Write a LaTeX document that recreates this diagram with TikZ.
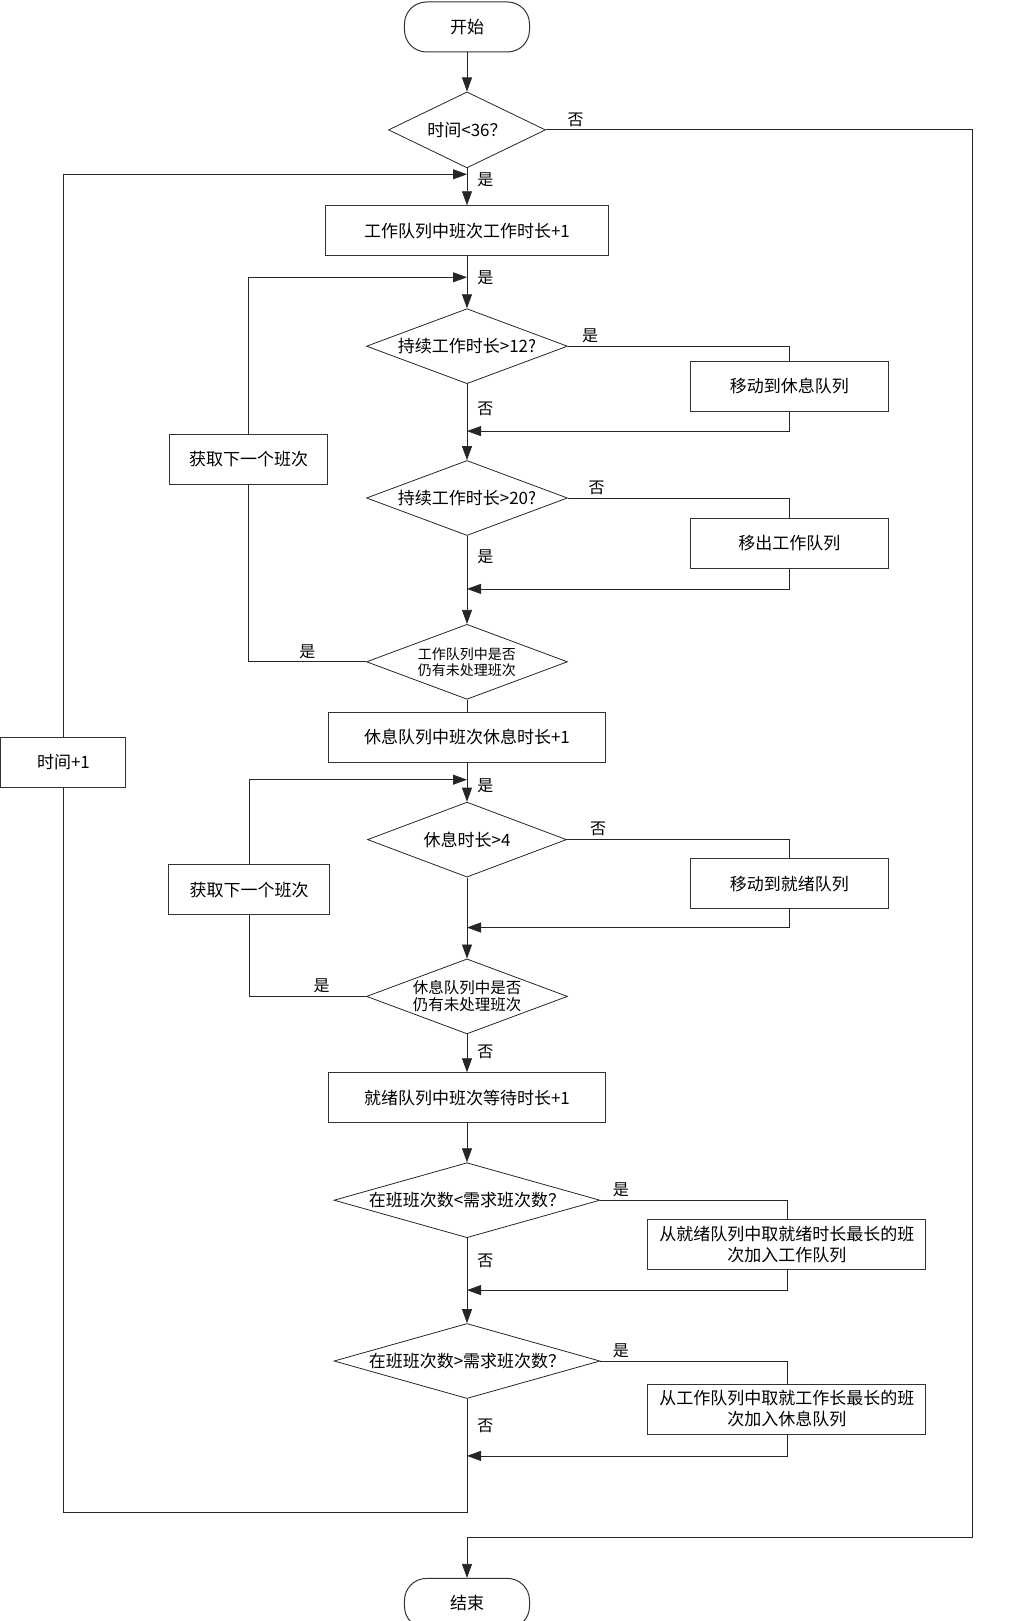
\documentclass[tikz,border=0pt]{standalone}
\usepackage{fontspec}
\setmainfont{Noto Sans CJK SC}
\usepackage{xcolor}
\usepackage{tikz}
\usetikzlibrary{shapes.geometric,positioning,arrows.meta,calc}

\begin{document}
\begin{tikzpicture}[auto,node distance=39pt,
	every node/.style={font=\fontsize{17}{21}\selectfont},
	process/.style={draw=black!80,line width=1pt,rectangle,minimum height=50pt,inner sep=2pt},
	terminal/.style={process,rounded corners=22pt,minimum width=125pt},
	decision/.style={draw=black!85,line width=0.8pt,diamond,aspect=2.7,inner sep=0pt,minimum width=201pt,minimum height=75pt},
	answer/.style={inner xsep=10pt,inner ysep=3pt,font=\fontsize{16}{20}\selectfont},
	flow/.style={draw=black!85,line width=0.8pt},
	arrow/.style={flow,-{Triangle[length=14pt,width=10pt]}}]
					\useasboundingbox (-467pt,27pt) rectangle (542pt,-1594pt);

					% Main column, top to bottom
					\node[terminal] (start) at (0,0) {开始};
					\node[decision,minimum width=157pt,minimum height=76pt] (time) [below=39pt of start] {时间<36？};
					\node[process,minimum width=282pt] (work) [below=37pt of time] {工作队列中班次工作时长+1};
					\node[decision] (long12) [below=52pt of work] {持续工作时长>12?};
					\node[decision] (long20) [below=76pt of long12] {持续工作时长>20?};
					\node[decision,align=center,font=\fontsize{14}{16}\selectfont] (morework) [below=88pt of long20] {工作队列中是否\\仍有未处理班次};
					\node[process,minimum width=276pt] (rest) [below=12pt of morework] {休息队列中班次休息时长+1};
					\node[decision,minimum width=199pt] (long4) [below=39pt of rest] {休息时长>4};
					\node[decision,align=center,font=\fontsize{15.5}{17}\selectfont] (morerest) [below=81pt of long4] {休息队列中是否\\仍有未处理班次};
					\node[process,minimum width=276pt] (ready) [below=38pt of morerest] {就绪队列中班次等待时长+1};
					\node[decision,aspect=3.6,minimum width=266pt] (less) [below=39pt of ready] {在班班次数<需求班次数？};
					\node[decision,aspect=3.6,minimum width=266pt] (more) [below=85pt of less] {在班班次数>需求班次数？};
					\node[terminal] (stop) [below=179pt of more] {结束};

					% Boxes on the right
					\node[process,minimum width=198pt] (torest) [right=122pt of long12,yshift=-40pt] {移动到休息队列};
					\node[process,minimum width=198pt] (outwork) [right=122pt of long20,yshift=-45pt] {移出工作队列};
					\node[process,minimum width=198pt] (toready) [right=123pt of long4,yshift=-44pt] {移动到就绪队列};
					\node[process,minimum width=278pt,align=center] (takeready) [right=47pt of less,yshift=-44pt] {从就绪队列中取就绪时长最长的班\\次加入工作队列};
					\node[process,minimum width=278pt,align=center] (takework) [right=47pt of more,yshift=-48pt] {从工作队列中取就工作长最长的班\\次加入休息队列};

					% Boxes on the left
					\node[process,minimum width=158pt] (next1) [left=38pt of long12,yshift=-113pt] {获取下一个班次};
					\node[process,minimum width=161pt] (next2) [left=37pt of long4,yshift=-50pt] {获取下一个班次};
					\node[process,minimum width=125pt] (tick) [left=202pt of rest,yshift=-25pt] {时间+1};

					% Points where lines meet
					\coordinate (back0) at ($(time.south)+(0,-6pt)$);
					\coordinate (back1) at ($(work.south)+(0,-21pt)$);
					\coordinate (back4) at ($(rest.south)+(0,-17pt)$);
					\coordinate (join12) at ($(long12.south)+(0,-47pt)$);
					\coordinate (join20) at ($(long20.south)+(0,-53pt)$);
					\coordinate (join4) at ($(long4.south)+(0,-50pt)$);
					\coordinate (joinless) at ($(less.south)+(0,-52pt)$);
					\coordinate (joinmore) at ($(more.south)+(0,-57pt)$);
					\coordinate (loop) at ($(more.south)+(0,-113pt)$);
					\coordinate (exit) at ($(stop.north)+(0,41pt)$);
					\coordinate (rail) at ($(time.east)+(426pt,0)$);

					% Edges
					\draw[arrow] (start) -- (time);
					\draw[arrow] (time.east) -- node[answer,pos=0.07]{否} (rail) |- (exit) -- (stop.north);
					\draw[arrow] (time) -- node[answer,pos=0.3]{是} (work);
					\draw[arrow] (work) -- node[answer,pos=0.42]{是} (long12);
					\draw[flow] (long12.east) -- node[answer,pos=0.1]{是} (long12.east -| torest.north) -- (torest.north);
					\draw[arrow] (torest.south) |- (join12);
					\draw[arrow] (long12) -- node[answer,pos=0.32]{否} (long20);
					\draw[flow] (long20.east) -- node[answer,pos=0.13]{否} (long20.east -| outwork.north) -- (outwork.north);
					\draw[arrow] (outwork.south) |- (join20);
					\draw[arrow] (long20) -- node[answer,pos=0.24]{是} (morework);
					\draw[flow] (morework.west) -- node[answer,swap,pos=0.5]{是} (morework.west -| next1.south) -- (next1.south);
					\draw[arrow] (next1.north) |- (back1);
					\draw[flow] (morework) -- (rest);
					\draw[arrow] (rest) -- node[answer,pos=0.6]{是} (long4);
					\draw[flow] (long4.east) -- node[answer,pos=0.14]{否} (long4.east -| toready.north) -- (toready.north);
					\draw[arrow] (toready.south) |- (join4);
					\draw[arrow] (long4) -- (morerest);
					\draw[flow] (morerest.west) -- node[answer,swap,pos=0.38]{是} (morerest.west -| next2.south) -- (next2.south);
					\draw[arrow] (next2.north) |- (back4);
					\draw[arrow] (morerest) -- node[answer,pos=0.47]{否} (ready);
					\draw[arrow] (ready) -- (less);
					\draw[flow] (less.east) -- node[answer,pos=0.11]{是} (less.east -| takeready.north) -- (takeready.north);
					\draw[arrow] (takeready.south) |- (joinless);
					\draw[arrow] (less) -- node[answer,pos=0.27]{否} (more);
					\draw[flow] (more.east) -- node[answer,pos=0.11]{是} (more.east -| takework.north) -- (takework.north);
					\draw[arrow] (takework.south) |- (joinmore);
					\draw[flow] (more.south) -- node[answer,pos=0.24]{否} (loop) -| (tick.south);
					\draw[arrow] (tick.north) |- (back0);
				\end{tikzpicture}
\end{document}
